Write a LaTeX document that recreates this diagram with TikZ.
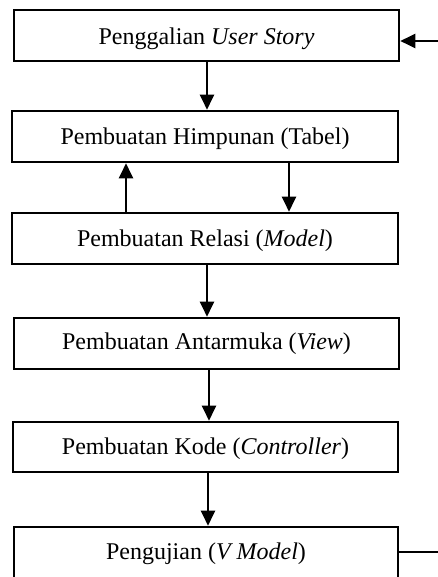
\documentclass[tikz,border=0pt]{standalone}
\usepackage{fontspec}
\setmainfont{Liberation Serif}
\usetikzlibrary{arrows.meta}
\tikzset{
  stepbox/.style={draw, line width=2.6pt, rectangle, inner sep=0pt, text height=19pt, text depth=3.2pt, font=\fontsize{24}{28}\selectfont},
  arr/.style={line width=2.3pt, -{Triangle[width=14pt,length=15pt]}},
  plain/.style={line width=2.3pt}
}
\begin{document}
\begin{tikzpicture}[x=1pt,y=1pt]
\useasboundingbox (0,0) rectangle (438,-577);
\node[stepbox, minimum width=385pt, minimum height=51pt] (b1) at (206.5,-35.5) {\raisebox{-1.5pt}{Penggalian \textit{User Story}}};
\node[stepbox, minimum width=386pt, minimum height=51pt] (b2) at (205,-136.5) {Pembuatan Himpunan (Tabel)};
\node[stepbox, minimum width=386pt, minimum height=51pt] (b3) at (205,-238.5) {Pembuatan Relasi (\textit{Model})};
\node[stepbox, minimum width=385pt, minimum height=51pt] (b4) at (206.5,-343.5) {\raisebox{1.5pt}{Pembuatan Antarmuka (\textit{View})}};
\node[stepbox, minimum width=385pt, minimum height=50pt] (b5) at (205.5,-447) {Pembuatan Kode (\textit{Controller})};
\node[stepbox, minimum width=384pt, minimum height=51pt] (b6) at (206,-552.5) {\raisebox{0.5pt}{Pengujian (\textit{V Model})}};
\coordinate (r1) at (438,-41);
\coordinate (r6) at (438,-552);
\coordinate (xa) at (207,0);
\coordinate (xu) at (126,0);
\coordinate (xd) at (289,0);
\coordinate (xb) at (209,0);
\coordinate (xc) at (208,0);
\draw[arr] (b1.south -| xa) -- (b2.north -| xa);
\draw[arr] (b3.north -| xu) -- (b2.south -| xu);
\draw[arr] (b2.south -| xd) -- (b3.north -| xd);
\draw[arr] (b3.south -| xa) -- (b4.north -| xa);
\draw[arr] (b4.south -| xb) -- (b5.north -| xb);
\draw[arr] (b5.south -| xc) -- (b6.north -| xc);
\draw[plain] (b6.east |- r6) -- (r6);
\draw[arr] (r1) -- (b1.east |- r1);
\end{tikzpicture}
\end{document}
